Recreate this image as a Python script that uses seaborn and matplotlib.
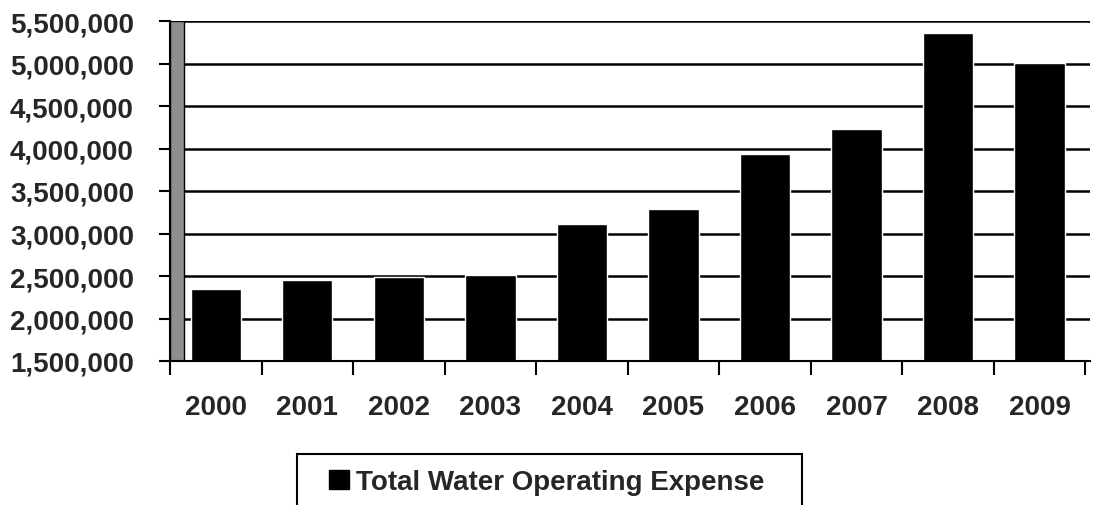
import matplotlib
matplotlib.use("Agg")
import matplotlib.pyplot as plt
from matplotlib.patches import Patch, Rectangle
import pandas as pd
import seaborn as sns

# values
years = ["2000", "2001", "2002", "2003", "2004", "2005", "2006", "2007", "2008", "2009"]
expense = [2350000, 2450000, 2490000, 2510000, 3110000, 3290000, 3940000, 4230000, 5360000, 5010000]
series_name = "Total Water Operating Expense"
y_ticks = [1500000, 2000000, 2500000, 3000000, 3500000, 4000000, 4500000, 5000000, 5500000]

df = pd.DataFrame({"year": years, "expense": expense})

sns.set_theme(style="white")
plt.rcParams["font.family"] = ["Liberation Sans", "DejaVu Sans"]
plt.rcParams["font.weight"] = "bold"

fig = plt.figure(figsize=(10.93, 5.06), dpi=100)
ax = fig.add_axes([170 / 1093, 1 - 362 / 506, 920 / 1093, 340 / 506])

sns.barplot(data=df, x="year", y="expense", color="black", saturation=1,
            width=0.55, ax=ax)

ax.set_xlim(-0.5, 9.55)
ax.set_ylim(y_ticks[0], y_ticks[-1])
ax.set_yticks(y_ticks)
ax.set_yticklabels([f"{v:,}" for v in y_ticks], fontsize=20, fontweight="bold")
ax.set_xticks(range(len(years)))
ax.set_xticklabels(years, fontsize=20, fontweight="bold")
ax.set_xticks([i - 0.5 for i in range(len(years) + 1)], minor=True)
ax.set_xlabel("")
ax.set_ylabel("")

# horizontal gridlines like the Excel back wall
ax.yaxis.grid(True, color="black", linewidth=1.8)
ax.set_axisbelow(True)

ax.tick_params(axis="y", which="major", direction="out", length=8, width=1.5,
               color="black", pad=18, left=True)
ax.tick_params(axis="x", which="major", length=0, pad=24)
ax.tick_params(axis="x", which="minor", direction="out", length=10, width=1.5,
               color="black", bottom=True)

for side in ["top", "right"]:
    ax.spines[side].set_visible(False)
ax.spines["left"].set_color("black")
ax.spines["left"].set_linewidth(1.5)
ax.spines["bottom"].set_color("black")
ax.spines["bottom"].set_linewidth(1.5)

# shaded side wall
ax.add_patch(Rectangle((0, 0), 0.015, 1, transform=ax.transAxes,
                       facecolor="#8f8f8f", edgecolor="black", lw=1, zorder=1))

handle = Patch(facecolor="black", edgecolor="black")
leg = fig.legend(handles=[handle], labels=[series_name], loc="upper center",
                 bbox_to_anchor=(0.5, 1 - 455 / 506), ncol=1, frameon=False,
                 prop={"size": 20, "weight": "bold"}, borderpad=0.55,
                 handlelength=0.72, handleheight=0.72, handletextpad=0.25,
                 borderaxespad=0)

# wide legend box, running off the bottom of the page like the scan
fig.patches.append(Rectangle((297 / 1093, -0.05), 505 / 1093, 51 / 506 + 0.05,
                             transform=fig.transFigure, fill=False,
                             edgecolor="black", linewidth=1.5))

fig.savefig("out.png", dpi=100)
